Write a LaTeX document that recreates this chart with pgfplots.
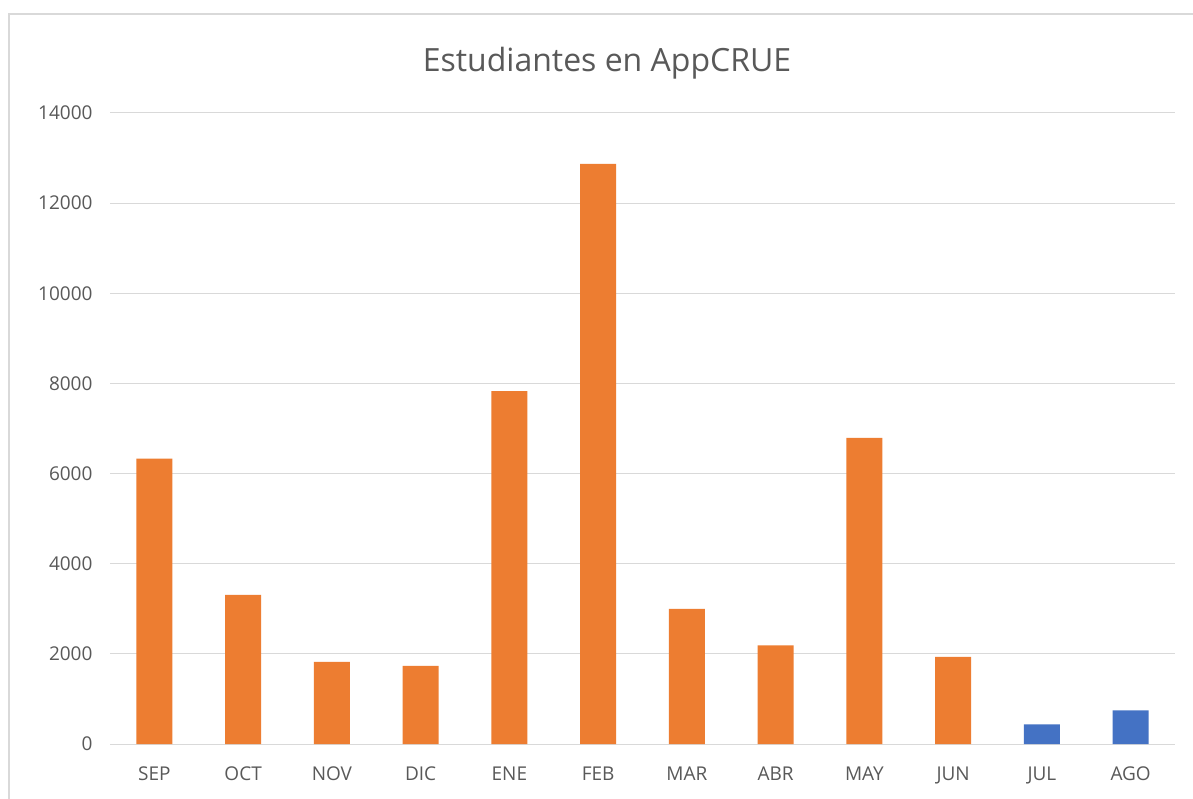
\documentclass[border=0pt]{standalone}
\usepackage{pgfplots}
\pgfplotsset{compat=1.18}
\usepackage{fontspec}
\setmainfont{Open Sans}
\definecolor{xlorange}{HTML}{ED7D31}
\definecolor{xlblue}{HTML}{4472C4}
\definecolor{xlgrid}{HTML}{D9D9D9}
\definecolor{xltext}{HTML}{595959}
\begin{document}
\begin{tikzpicture}[x=1pt,y=1pt]
\useasboundingbox (0,0) rectangle (1193,798);
\fill[white] (0,0) rectangle (1193,798);
\draw[xlgrid, line width=1.5pt] (9,-10) -- (9,784) -- (1210,784);
\node[font=\fontsize{32}{36}\selectfont, text=xltext, anchor=base] at (607,726) {Estudiantes en AppCRUE};
\begin{axis}[
  at={(110pt,54pt)}, anchor=south west,
  scale only axis, width=1065pt, height=631pt,
  xmin=-0.5, xmax=11.5, ymin=0, ymax=14000,
  ytick={0,2000,...,14000},
  scaled y ticks=false,
  xtick={0,...,11},
  xticklabels={SEP,OCT,NOV,DIC,ENE,FEB,MAR,ABR,MAY,JUN,JUL,AGO},
  axis line style={draw=none},
  major tick length=0pt,
  ymajorgrids, grid style={xlgrid, line width=1pt},
  /pgf/number format/assume math mode=true,
  /pgf/number format/fixed,
  /pgf/number format/1000 sep={},
  ticklabel style={font=\fontsize{19}{22}\selectfont, text=xltext},
  yticklabel style={xshift=-14pt},
  xticklabel style={yshift=-19pt},
  bar width=36pt,
  clip=false,
]
\addplot[ybar, fill=xlorange, draw=none, bar shift=0pt] coordinates {
(0,6330) (1,3310) (2,1820) (3,1735) (4,7830) (5,12870) (6,3000) (7,2190) (8,6790) (9,1935)};
\addplot[ybar, fill=xlblue, draw=none, bar shift=0pt] coordinates {
(10,436) (11,746)};
\end{axis}
\end{tikzpicture}
\end{document}
